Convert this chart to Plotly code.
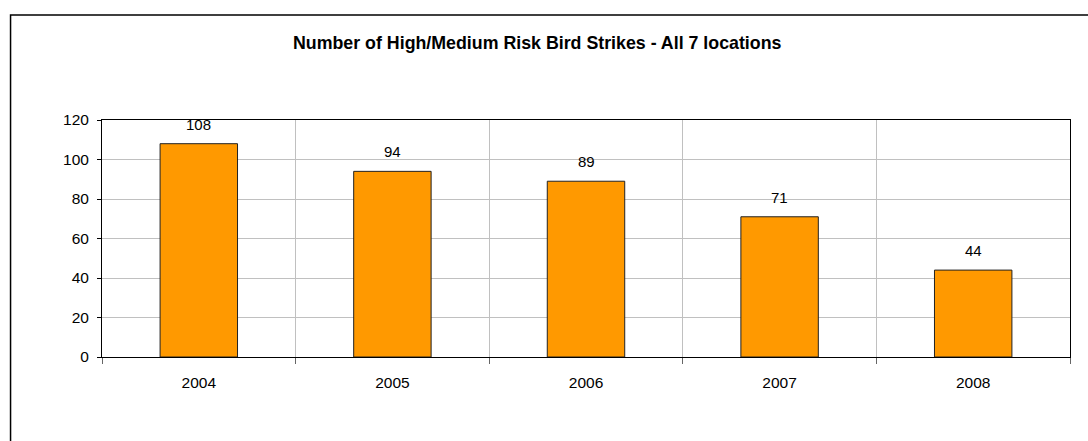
import plotly.graph_objects as go

years = ["2004", "2005", "2006", "2007", "2008"]
strikes = [108, 94, 89, 71, 44]
title_text = "Number of High/Medium Risk Bird Strikes - All 7 locations"

W, H = 1088, 441
L, R, T, B = 101.5, 1070, 120, 357
pw, ph = R - L, B - T

xpos = list(range(len(years)))

fig = go.Figure()
fig.add_trace(go.Bar(
    x=xpos, y=strikes, width=0.4,
    marker=dict(color="#FF9900", line=dict(color="#222222", width=1)),
    hoverinfo="skip",
))

for xi, v in zip(xpos, strikes):
    fig.add_annotation(x=xi, y=v, text=str(v), showarrow=False,
                       xref="x", yref="y", yanchor="bottom", yshift=9,
                       font=dict(family="Liberation Sans, Arial", size=15, color="black"))

fig.add_annotation(text="<b>" + title_text + "</b>", xref="paper", yref="paper",
                   x=(537.5 - L) / pw, y=(B - 43) / ph, xanchor="center", yanchor="middle",
                   showarrow=False,
                   font=dict(family="Liberation Sans, Arial", size=17.8, color="black"))

# outer chart frame
fig.add_shape(type="rect", xref="paper", yref="paper",
              x0=(10 - L) / pw, x1=(1110 - L) / pw,
              y0=(B - 470) / ph, y1=(B - 15) / ph,
              line=dict(color="black", width=1.5), layer="below")

fig.update_layout(
    width=W, height=H,
    margin=dict(l=L, r=W - R, t=T, b=H - B, pad=0),
    paper_bgcolor="white", plot_bgcolor="white",
    showlegend=False,
    font=dict(family="Liberation Sans, Arial", size=15.5, color="black"),
    xaxis=dict(
        range=[-0.5, len(years) - 0.5],
        tickvals=xpos, ticktext=years, ticks="", showgrid=False,
        ticklabelstandoff=11,
        minor=dict(tickvals=[i + 0.5 for i in xpos[:-1]] + [-0.5, len(years) - 0.5],
                   showgrid=True, gridcolor="#C0C0C0", gridwidth=1,
                   ticks="outside", ticklen=6, tickcolor="#666666"),
        showline=True, linecolor="black", linewidth=1, mirror=True,
        zeroline=False, fixedrange=True,
    ),
    yaxis=dict(
        range=[0, 120], dtick=20, tick0=0,
        ticks="outside", ticklen=4, tickcolor="black",
        ticklabelstandoff=5,
        showgrid=True, gridcolor="#C0C0C0", gridwidth=1,
        showline=True, linecolor="black", linewidth=1, mirror=True,
        zeroline=False, fixedrange=True,
    ),
)

fig.write_html("out.html", config={"displayModeBar": False})
